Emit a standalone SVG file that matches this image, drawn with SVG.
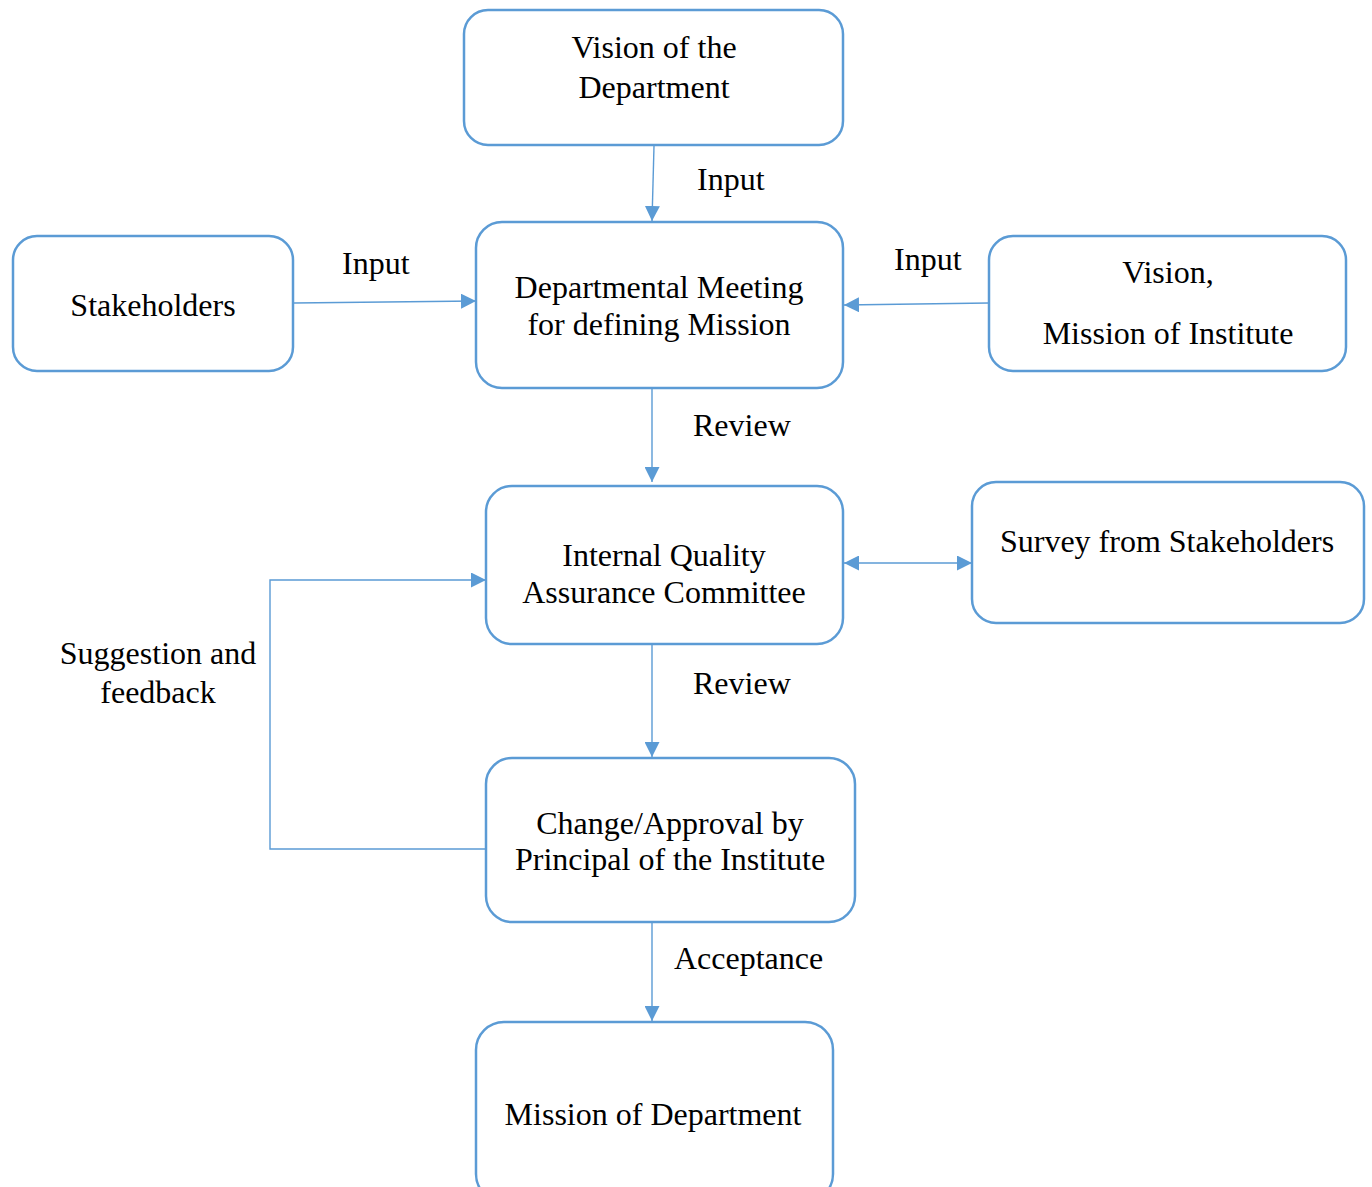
<svg xmlns="http://www.w3.org/2000/svg" width="1372" height="1187" viewBox="0 0 1372 1187">
<style>
.box{fill:#fff;stroke:#5b9bd5;stroke-width:2.5}
.c{fill:none;stroke:#5b9bd5;stroke-width:1.4}
text{font-family:"Liberation Serif","Times New Roman",serif;font-size:32px;fill:#000}
.m{text-anchor:middle}
</style>
<defs>
<marker id="ahl" viewBox="0 0 10 10" refX="10" refY="5" markerWidth="15" markerHeight="15" markerUnits="userSpaceOnUse" orient="auto-start-reverse"><path d="M0,0 L10,5 L0,10 z" fill="#5b9bd5"/></marker>
</defs>
<rect width="1372" height="1187" fill="#fff"/>
<g id="connectors">
<path class="c" d="M654,146 L652,221" marker-end="url(#ahl)"/>
<path class="c" d="M294,303 L476,301" marker-end="url(#ahl)"/>
<path class="c" d="M989,303 L844,305" marker-end="url(#ahl)"/>
<path class="c" d="M652,389 L652,482" marker-end="url(#ahl)"/>
<path class="c" d="M844,563 L972,563" marker-start="url(#ahl)" marker-end="url(#ahl)"/>
<path class="c" d="M652,645 L652,757" marker-end="url(#ahl)"/>
<path class="c" d="M652,923 L652,1021" marker-end="url(#ahl)"/>
<path class="c" d="M486,849 L270,849 L270,580 L486,580" marker-end="url(#ahl)"/>
<text x="697" y="190">Input</text>
<text x="342" y="274">Input</text>
<text x="894" y="270">Input</text>
<text x="693" y="436">Review</text>
<text x="693" y="694">Review</text>
<text x="674" y="969">Acceptance</text>
<text class="m" x="158" y="664">Suggestion and</text>
<text class="m" x="158" y="703">feedback</text>
</g>
<g id="vision-dept"><rect class="box" x="464" y="10" width="379" height="135" rx="24"/><text class="m" x="654" y="58">Vision of the</text><text class="m" x="654" y="98">Department</text></g>
<g id="stakeholders"><rect class="box" x="13" y="236" width="280" height="135" rx="24"/><text class="m" x="153" y="316">Stakeholders</text></g>
<g id="meeting"><rect class="box" x="476" y="222" width="367" height="166" rx="26"/><text class="m" x="659" y="298">Departmental Meeting</text><text class="m" x="659" y="335">for defining Mission</text></g>
<g id="vision-inst"><rect class="box" x="989" y="236" width="357" height="135" rx="24"/><text class="m" x="1168" y="283">Vision,</text><text class="m" x="1168" y="344">Mission of Institute</text></g>
<g id="iqac"><rect class="box" x="486" y="486" width="357" height="158" rx="26"/><text class="m" x="664" y="566">Internal Quality</text><text class="m" x="664" y="603">Assurance Committee</text></g>
<g id="survey"><rect class="box" x="972" y="482" width="392" height="141" rx="24"/><text class="m" x="1167" y="552">Survey from Stakeholders</text></g>
<g id="approval"><rect class="box" x="486" y="758" width="369" height="164" rx="26"/><text class="m" x="670" y="834">Change/Approval by</text><text class="m" x="670" y="870">Principal of the Institute</text></g>
<g id="mission-dept"><rect class="box" x="476" y="1022" width="357" height="180" rx="28"/><text class="m" x="653" y="1125">Mission of Department</text></g>
</svg>
